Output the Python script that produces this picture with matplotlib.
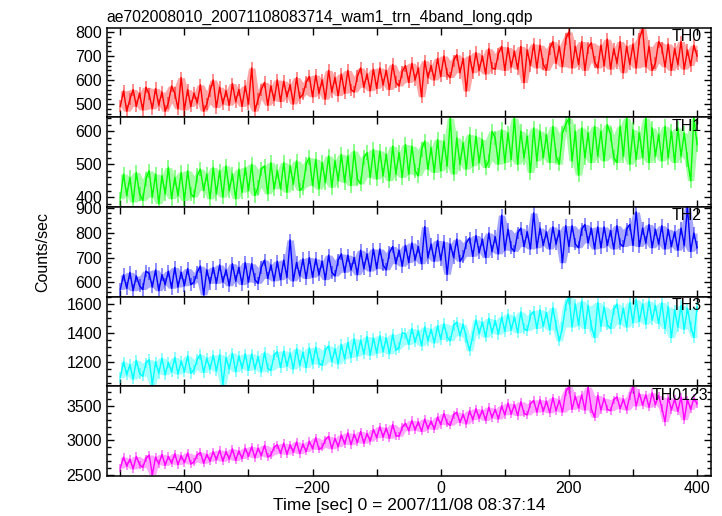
import numpy as np
import matplotlib
matplotlib.use('Agg')
import matplotlib.pyplot as plt
from matplotlib.ticker import MultipleLocator

plt.rcParams['font.family'] = ['Liberation Sans', 'DejaVu Sans']

# time bins of the light curve (5 s step, -500 .. 400 s)
t_start = -500
t_step = 5

title = 'ae702008010_20071108083714_wam1_trn_4band_long.qdp'
band_names = ['TH0', 'TH1', 'TH2', 'TH3', 'TH0123']

# count rates, one row = 50 s
th0 = [
    490, 555, 470, 520, 560, 490, 545, 475, 570, 540,
    480, 565, 495, 550, 470, 505, 575, 545, 480, 610,
    475, 560, 490, 545, 505, 580, 470, 500, 555, 600,
    485, 570, 500, 555, 495, 585, 510, 560, 490, 575,
    500, 650, 470, 520, 560, 590, 495, 575, 515, 600,
    510, 595, 530, 580, 500, 610, 525, 540, 590, 615,
    530, 620, 545, 600, 520, 640, 550, 610, 535, 625,
    545, 640, 560, 550, 615, 650, 570, 625, 555, 645,
    565, 650, 580, 640, 560, 665, 590, 575, 635, 660,
    590, 670, 600, 650, 530, 680, 610, 660, 600, 690,
    615, 700, 625, 610, 680, 705, 630, 690, 554, 700,
    630, 715, 640, 700, 625, 730, 650, 645, 710, 740,
    640, 735, 655, 720, 645, 740, 589, 725, 660, 750,
    650, 745, 665, 640, 730, 760, 670, 740, 655, 770,
    800, 650, 740, 665, 760, 640, 735, 755, 675, 650,
    745, 660, 770, 645, 730, 670, 760, 630, 740, 665,
    750, 650, 770, 815, 655, 740, 640, 670, 760, 735,
    655, 750, 640, 730, 665, 760, 645, 725, 660, 745,
    700,
]
th1 = [
    395, 470, 405, 460, 385, 475, 410, 390, 455, 480,
    400, 470, 380, 465, 410, 490, 395, 460, 405, 475,
    390, 480, 410, 400, 465, 485, 420, 470, 395, 490,
    410, 480, 400, 495, 420, 470, 395, 485, 415, 490,
    420, 500, 405, 430, 485, 495, 410, 505, 425, 480,
    425, 505, 415, 495, 440, 510, 420, 430, 500, 520,
    435, 515, 425, 505, 445, 525, 430, 510, 450, 530,
    445, 525, 435, 540, 455, 440, 520, 535, 460, 545,
    455, 540, 465, 530, 450, 555, 470, 535, 460, 560,
    470, 555, 480, 465, 545, 570, 485, 550, 475, 575,
    480, 570, 495, 640, 470, 580, 500, 565, 485, 590,
    495, 585, 505, 575, 490, 510, 600, 580, 500, 605,
    505, 595, 515, 640, 500, 600, 520, 585, 475, 610,
    510, 600, 520, 590, 505, 615, 525, 500, 595, 620,
    640, 510, 600, 467, 610, 520, 595, 505, 615, 525,
    600, 510, 620, 590, 520, 505, 615, 525, 640, 500,
    605, 515, 595, 520, 640, 505, 610, 525, 590, 510,
    615, 520, 600, 505, 610, 525, 595, 515, 450, 640,
    560,
]
th2 = [
    570, 630, 575, 640, 565, 625, 585, 570, 645, 635,
    580, 650, 565, 630, 590, 645, 575, 660, 580, 640,
    585, 655, 590, 600, 640, 665, 548, 650, 595, 660,
    595, 670, 600, 650, 585, 675, 605, 660, 590, 680,
    600, 675, 610, 595, 660, 690, 615, 670, 605, 685,
    610, 690, 620, 772, 605, 680, 625, 695, 615, 700,
    620, 695, 630, 685, 610, 710, 640, 625, 690, 715,
    640, 710, 650, 700, 630, 730, 655, 715, 645, 735,
    655, 735, 670, 650, 720, 745, 675, 730, 665, 750,
    680, 760, 690, 745, 675, 826, 700, 755, 685, 770,
    690, 765, 632, 755, 700, 775, 685, 705, 760, 780,
    705, 790, 720, 775, 700, 800, 725, 785, 715, 873,
    730, 815, 740, 725, 800, 820, 745, 805, 735, 882,
    740, 820, 750, 805, 735, 825, 755, 810, 679, 830,
    745, 830, 755, 740, 815, 835, 760, 820, 735, 825,
    740, 825, 750, 810, 735, 830, 755, 745, 815, 835,
    750, 886, 745, 820, 760, 835, 740, 815, 755, 830,
    735, 815, 745, 805, 730, 820, 750, 906, 725, 800,
    740,
]
th3 = [
    1090, 1200, 1110, 1180, 1080, 1210, 1120, 1100, 1190, 1215,
    1042, 1200, 1120, 1225, 1110, 1195, 1130, 1230, 1115, 1205,
    1130, 1240, 1120, 1145, 1215, 1250, 1125, 1225, 1150, 1245,
    1135, 1250, 1042, 1230, 1150, 1260, 1130, 1240, 1155, 1255,
    1140, 1255, 1150, 1235, 1130, 1265, 1155, 1140, 1245, 1270,
    1160, 1275, 1170, 1260, 1150, 1290, 1175, 1265, 1160, 1295,
    1185, 1300, 1190, 1175, 1280, 1310, 1200, 1290, 1185, 1320,
    1220, 1335, 1230, 1360, 1240, 1350, 1255, 1375, 1245, 1365,
    1260, 1380, 1270, 1365, 1255, 1390, 1280, 1300, 1400, 1395,
    1320, 1430, 1335, 1415, 1310, 1440, 1345, 1425, 1330, 1450,
    1355, 1465, 1370, 1345, 1450, 1475, 1380, 1460, 1365, 1276,
    1380, 1490, 1395, 1475, 1370, 1500, 1400, 1485, 1390, 1510,
    1410, 1530, 1420, 1510, 1400, 1545, 1430, 1415, 1520, 1550,
    1430, 1560, 1445, 1540, 1420, 1575, 1450, 1344, 1440, 1590,
    1651, 1440, 1600, 1455, 1620, 1430, 1590, 1450, 1367, 1610,
    1445, 1580, 1455, 1430, 1560, 1600, 1460, 1570, 1440, 1610,
    1470, 1630, 1480, 1600, 1460, 1620, 1490, 1590, 1465, 1610,
    1430, 1580, 1367, 1560, 1440, 1590, 1425, 1570, 1445, 1367,
    1580,
]
th0123 = [
    2600, 2760, 2630, 2730, 2590, 2770, 2650, 2610, 2740, 2790,
    2504, 2760, 2660, 2800, 2640, 2770, 2670, 2810, 2650, 2780,
    2680, 2820, 2660, 2690, 2790, 2830, 2670, 2800, 2700, 2840,
    2720, 2860, 2700, 2840, 2730, 2880, 2710, 2850, 2740, 2890,
    2770, 2910, 2750, 2890, 2780, 2930, 2760, 2790, 2900, 2940,
    2810, 2960, 2800, 2940, 2830, 2980, 2810, 2950, 2840, 2990,
    2880, 3040, 2870, 2900, 3010, 3060, 2880, 3030, 2910, 3080,
    2950, 3110, 2940, 3090, 2970, 3130, 2960, 3100, 2990, 3160,
    3040, 3200, 3050, 3180, 3030, 3230, 3070, 3060, 3190, 3250,
    3140, 3290, 3150, 3270, 3130, 3310, 3170, 3280, 3160, 3340,
    3230, 3390, 3250, 3220, 3370, 3410, 3260, 3380, 3240, 3430,
    3300, 3460, 3320, 3440, 3290, 3480, 3330, 3450, 3310, 3500,
    3370, 3540, 3380, 3520, 3360, 3560, 3390, 3370, 3530, 3580,
    3410, 3590, 3420, 3570, 3400, 3620, 3430, 3580, 3410, 3700,
    3780, 3450, 3640, 3470, 3660, 3440, 3770, 3460, 3334, 3650,
    3440, 3610, 3450, 3430, 3590, 3630, 3460, 3600, 3440, 3640,
    3780, 3500, 3680, 3510, 3660, 3480, 3690, 3520, 3650, 3470,
    3273, 3620, 3440, 3600, 3420, 3630, 3300, 3590, 3450, 3610,
    3530,
]
# 1-sigma error bar half-length per band
sigma = [25, 22, 26, 36, 57]

series = [th0, th1, th2, th3, th0123]
colors = ['#ff0000', '#00ff00', '#0000ff', '#00ffff', '#ff00ff']
ylims = [(444, 817), (370, 642), (541, 906), (1031, 1651), (2490, 3785)]
ymajor = [100, 100, 100, 200, 500]
yminor = [20, 20, 20, 50, 100]
label_x = [0.985, 0.985, 0.985, 0.985, 0.995]

fig = plt.figure(figsize=(7.22, 5.16), dpi=100)
gs = fig.add_gridspec(5, 1, left=0.148, right=0.985, top=0.946, bottom=0.078, hspace=0)

for i, vals in enumerate(series):
    ax = fig.add_subplot(gs[i])
    y = np.array(vals, dtype=float)
    t = t_start + t_step * np.arange(len(y))
    # dense core of the light curve: envelope of neighbouring samples
    yp = np.pad(y, 1, mode='edge')
    lo = np.minimum(np.minimum(yp[:-2], yp[1:-1]), yp[2:])
    hi = np.maximum(np.maximum(yp[:-2], yp[1:-1]), yp[2:])
    ax.fill_between(t, lo, hi, color=colors[i], alpha=0.35, lw=0)
    ax.errorbar(t, y, yerr=sigma[i], fmt='none', ecolor=colors[i], elinewidth=1.4,
                alpha=0.45, capsize=0)
    ax.plot(t, y, color=colors[i], lw=1.0)
    ax.set_xlim(-521, 422)
    ax.set_ylim(*ylims[i])
    ax.xaxis.set_major_locator(MultipleLocator(200))
    ax.xaxis.set_minor_locator(MultipleLocator(100))
    ax.yaxis.set_major_locator(MultipleLocator(ymajor[i]))
    ax.yaxis.set_minor_locator(MultipleLocator(yminor[i]))
    ax.tick_params(which='both', direction='in', top=True, right=True, labelsize=11.5, width=1)
    ax.tick_params(which='major', length=5)
    ax.tick_params(which='minor', length=3)
    ax.tick_params(axis='x', which='minor', length=5)
    for s in ax.spines.values():
        s.set_linewidth(1.1)
    ax.text(label_x[i], 0.985, band_names[i], transform=ax.transAxes,
            ha='right', va='top', fontsize=11.5)
    if i < 4:
        ax.tick_params(labelbottom=False)
    else:
        ax.set_xlabel('Time [sec] 0 = 2007/11/08 08:37:14', fontsize=12.5, labelpad=2)
    if i == 0:
        ax.set_title(title, loc='left', fontsize=11.3, pad=4)
    if i == 2:
        ax.set_ylabel('Counts/sec', fontsize=11.5, labelpad=18)

fig.savefig('out.png', dpi=100)
